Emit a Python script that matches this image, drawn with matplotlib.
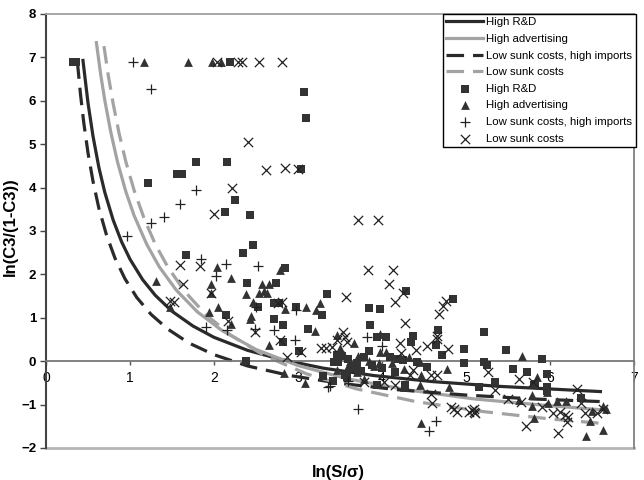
import matplotlib
matplotlib.use("Agg")
import matplotlib.pyplot as plt
from matplotlib.lines import Line2D

plt.rcParams['font.family'] = ['Liberation Sans', 'DejaVu Sans']

# ---- fitted lower-bound curves ----
rd_line_x = [0.44, 0.5, 0.56, 0.63, 0.7, 0.8, 0.9, 1.0, 1.15, 1.3, 1.5, 1.75, 2.0, 2.4, 2.8, 3.3, 3.9, 4.6, 5.4, 6.6]
rd_line_y = [6.93, 5.95, 5.18, 4.46, 3.89, 3.25, 2.75, 2.35, 1.88, 1.52, 1.15, 0.81, 0.55, 0.25, 0.04, -0.16, -0.33, -0.47, -0.58, -0.70]

adv_line_x = [0.6, 0.65, 0.7, 0.77, 0.85, 0.95, 1.05, 1.2, 1.35, 1.55, 1.8, 2.1, 2.5, 3.0, 3.6, 4.3, 5.1, 5.9, 6.68]
adv_line_y = [7.34, 6.62, 6.01, 5.29, 4.60, 3.91, 3.35, 2.69, 2.17, 1.64, 1.14, 0.70, 0.27, -0.10, -0.41, -0.66, -0.87, -1.01, -1.13]

lsi_line_x = [0.373, 0.41, 0.45, 0.5, 0.56, 0.63, 0.72, 0.82, 0.94, 1.08, 1.25, 1.45, 1.7, 2.0, 2.4, 2.9, 3.5, 4.2, 5.0, 5.8, 6.6]
lsi_line_y = [6.91, 6.16, 5.49, 4.80, 4.14, 3.52, 2.91, 2.38, 1.90, 1.47, 1.08, 0.74, 0.42, 0.15, -0.11, -0.33, -0.51, -0.66, -0.78, -0.87, -0.93]

ls_line_x = [0.69, 0.74, 0.8, 0.87, 0.95, 1.05, 1.17, 1.3, 1.45, 1.65, 1.9, 2.2, 2.6, 3.1, 3.7, 4.4, 5.2, 6.0, 6.6]
ls_line_y = [7.26, 6.60, 5.93, 5.25, 4.60, 3.93, 3.28, 2.70, 2.17, 1.61, 1.08, 0.60, 0.13, -0.29, -0.64, -0.93, -1.16, -1.33, -1.43]

# ---- observations ----
rd_x = [0.32, 0.36, 2.19, 3.07, 3.10, 3.04, 1.22, 1.56, 1.62, 1.79, 2.16, 2.25, 2.13, 2.43, 1.67, 2.46, 2.34,
        2.39, 2.74, 2.85, 2.14, 2.52, 2.72, 2.77, 2.71, 2.82, 2.82, 2.98, 3.29, 3.34, 3.12, 3.01, 2.38, 3.30,
        3.47, 3.42, 4.28, 3.84, 3.98, 4.85, 3.86, 4.67, 4.37, 3.94, 4.05, 5.22, 4.98, 5.48, 5.91, 4.98, 5.21,
        5.25, 5.56, 5.73, 5.97, 5.15, 5.35, 5.82, 5.96, 5.97, 6.37, 3.85, 4.35, 4.64, 4.71, 4.19, 4.25, 4.42,
        4.53, 4.27, 3.94, 3.56, 3.58, 3.43, 3.48, 5.81, 5.35, 3.60, 3.70, 3.78, 3.88, 4.00, 4.10, 3.65, 3.52,
        4.15, 3.75]
rd_y = [6.9, 6.9, 6.9, 6.2, 5.6, 4.42, 4.10, 4.31, 4.32, 4.58, 4.59, 3.71, 3.44, 3.38, 2.44, 2.67, 2.50,
        1.81, 1.80, 2.15, 1.06, 1.24, 1.34, 1.35, 0.98, 0.83, 0.44, 1.25, 1.06, 1.54, 0.75, 0.23, 0.0, -0.34,
        0.14, -0.46, 1.62, 1.23, 1.20, 1.43, 0.83, 0.73, 0.58, 0.55, 0.55, 0.67, 0.27, 0.25, 0.06, -0.05, -0.02,
        -0.09, -0.19, -0.25, -0.30, -0.59, -0.49, -0.52, -0.59, -0.68, -0.85, 0.23, 0.44, 0.37, 0.14, 0.05, 0.02, -0.02,
        -0.13, -0.55, -0.54, -0.32, -0.36, -0.01, -0.01, -0.55, -0.48, 0.05, -0.05, 0.10, -0.08, -0.15, 0.10, -0.15, 0.12,
        -0.25, -0.22]

adv_x = [1.17, 1.69, 1.98, 2.08, 1.31, 2.03, 2.20, 1.96, 1.97, 2.38, 2.57, 2.65, 2.78, 2.53, 2.59, 2.63, 1.48,
         1.94, 2.05, 2.20, 2.43, 2.47, 2.84, 2.65, 3.09, 3.21, 3.26, 3.20, 2.83, 3.08, 3.46, 3.98, 3.98, 4.05,
         3.97, 4.77, 4.80, 4.47, 4.26, 4.45, 4.45, 4.26, 3.78, 3.70, 3.46, 3.67, 5.67, 5.85, 5.96, 6.08, 6.19,
         5.98, 5.63, 5.78, 5.78, 6.50, 6.63, 6.67, 6.48, 6.63, 6.43, 5.81, 4.47, 2.44, 3.55, 3.62, 3.72, 3.85,
         3.90, 4.12, 3.60, 4.32, 3.50]
adv_y = [6.9, 6.9, 6.9, 6.9, 1.84, 2.17, 1.92, 1.77, 1.56, 1.54, 1.79, 1.79, 2.11, 1.57, 1.61, 1.57, 1.24,
         1.14, 1.24, 0.85, 0.98, 1.37, 1.21, 0.37, 1.24, 1.19, 1.33, 0.69, -0.28, -0.51, 0.61, 0.62, 0.21, 0.21,
         -0.03, -0.17, -0.59, -0.32, -0.17, -0.01, -0.55, -0.60, -0.40, -0.26, -0.21, 0.41, 0.12, -0.36, -0.72, -0.91, -0.91,
         -0.96, -0.90, -1.04, -0.78, -1.15, -1.03, -1.09, -1.38, -1.59, -1.72, -1.32, -1.42, 1.04, 0.15, 0.0, 0.12, 0.0,
         -0.12, -0.05, -0.10, 0.10, 0.30]

lsi_x = [1.03, 1.25, 1.79, 1.60, 1.40, 1.25, 0.96, 1.85, 2.14, 2.02, 2.52, 2.50, 2.16, 1.90, 2.49, 2.72, 2.96,
         3.36, 3.82, 3.38, 4.64, 4.56, 3.72, 2.98, 3.60, 4.00]
lsi_y = [6.9, 6.28, 3.94, 3.63, 3.32, 3.19, 2.88, 2.36, 2.23, 1.96, 2.20, 1.24, 0.71, 0.79, 0.75, 0.73, 0.48,
         -0.59, 0.55, -0.57, -1.38, -1.61, -1.11, 1.18, -0.45, 0.35]

ls_x = [2.03, 2.28, 2.33, 2.53, 2.81, 2.40, 2.62, 2.85, 3.0, 2.21, 2.0, 3.72, 3.95, 1.60, 1.83, 1.63, 1.96, 1.48,
        1.52, 2.17, 2.49, 2.76, 2.79, 3.04, 3.27, 3.33, 2.87, 3.83, 4.13, 4.08, 4.25, 3.57, 4.15, 4.76, 4.73, 4.68,
        4.27, 4.66, 3.54, 3.56, 4.21, 4.23, 4.40, 4.54, 4.65, 4.78, 4.58, 4.66, 4.37, 4.33, 4.15, 4.02, 3.78, 3.46,
        3.58, 3.41, 5.26, 5.63, 5.35, 6.32, 5.50, 6.37, 5.66, 5.90, 6.04, 6.12, 6.18, 6.22, 6.20, 6.42, 6.56, 6.63,
        6.09, 5.71, 4.86, 4.89, 4.82, 5.04, 5.10, 5.09, 4.60, 4.58, 5.80, 5.07, 5.11, 2.81]
ls_y = [6.9, 6.9, 6.9, 6.9, 6.9, 5.05, 4.40, 4.45, 4.42, 4.0, 3.40, 3.26, 3.26, 2.21, 2.20, 1.77, 1.58, 1.39,
        1.37, 0.93, 0.68, 1.34, 0.50, 0.21, 0.31, 0.31, 0.10, 2.10, 2.10, 1.77, 1.58, 1.48, 1.37, 1.39, 1.27, 1.08,
        0.87, 0.58, 0.67, 0.56, 0.41, 0.20, 0.25, 0.35, 0.52, 0.29, -0.31, -0.31, -0.21, -0.32, -0.55, -0.48, -0.48, 0.48,
        0.44, 0.33, -0.25, -0.41, -0.67, -0.65, -0.88, -0.96, -0.95, -1.05, -1.19, -1.17, -1.24, -1.28, -1.40, -1.19, -1.19, -1.09,
        -1.65, -1.50, -1.09, -1.17, -1.05, -1.17, -1.17, -1.09, -0.96, -0.75, -0.48, -1.13, -1.19, 1.36]

series_labels = ['High R&D', 'High advertising', 'Low sunk costs, high imports', 'Low sunk costs']
x_ticks = [0, 1, 2, 3, 4, 5, 6, 7]
y_ticks = [-2, -1, 0, 1, 2, 3, 4, 5, 6, 7, 8]

dark = '#2a2a2a'
gray = '#a3a3a3'

fig = plt.figure(figsize=(6.44, 4.80), dpi=100)
ax = fig.add_axes([46/644, 1 - 448/480, 588/644, 434/480])

lw = 2.3
l1, = ax.plot(rd_line_x, rd_line_y, color=dark, lw=lw, label=series_labels[0])
l2, = ax.plot(adv_line_x, adv_line_y, color=gray, lw=lw, label=series_labels[1])
l3, = ax.plot(lsi_line_x, lsi_line_y, color=dark, lw=lw, dashes=(5.5, 2.8), label=series_labels[2])
l4, = ax.plot(ls_line_x, ls_line_y, color=gray, lw=lw, dashes=(5.5, 2.8), label=series_labels[3])

s1 = ax.scatter(rd_x, rd_y, marker='s', s=34, color='#333333', linewidths=0, label=series_labels[0], zorder=3)
s2 = ax.scatter(adv_x, adv_y, marker='^', s=40, color='#333333', linewidths=0, label=series_labels[1], zorder=3)
s3 = ax.scatter(lsi_x, lsi_y, marker='+', s=55, color='#222222', linewidths=0.9, label=series_labels[2], zorder=3)
s4 = ax.scatter(ls_x, ls_y, marker='x', s=45, color='#222222', linewidths=0.9, label=series_labels[3], zorder=3)

ax.set_xlim(0, 7)
ax.set_ylim(-2, 8)
ax.set_xticks(x_ticks)
ax.set_yticks(y_ticks)

for lab in ax.get_xticklabels() + ax.get_yticklabels():
    lab.set_fontweight('bold')
    lab.set_fontsize(9.5)

ax.spines['bottom'].set_position(('data', 0))
ax.spines['bottom'].set_color('#777777')
ax.spines['bottom'].set_linewidth(1.3)
ax.spines['left'].set_color('#444444')
ax.spines['left'].set_linewidth(1.5)
ax.spines['top'].set_color('#a0a0a0')
ax.spines['top'].set_linewidth(1.3)
ax.spines['right'].set_color('#808080')
ax.spines['right'].set_linewidth(1.3)
ax.axhline(-2, color='#b5b5b5', lw=2.0, clip_on=False, zorder=1)

ax.tick_params(axis='x', direction='out', length=3, width=1, color='#555555', pad=4)
ax.tick_params(axis='y', direction='out', length=4, width=1, color='#444444', pad=3)

fig.text(0.016, 0.527, 'ln(C3/(1-C3))', rotation=90, ha='center', va='center',
         fontsize=12, fontweight='bold')
fig.text(0.525, 0.016, 'ln(S/σ)', ha='center', va='center', fontsize=12, fontweight='bold')

leg = ax.legend(handles=[l1, l2, l3, l4, s1, s2, s3, s4], loc='upper right',
                bbox_to_anchor=(1.003, 1.0), borderaxespad=0, fontsize=8.2,
                frameon=True, fancybox=False, edgecolor='black', framealpha=1,
                handlelength=3.2, handletextpad=0.3, labelspacing=0.58, borderpad=0.3)
leg.get_frame().set_linewidth(1.0)

fig.savefig('out.png', dpi=100)
